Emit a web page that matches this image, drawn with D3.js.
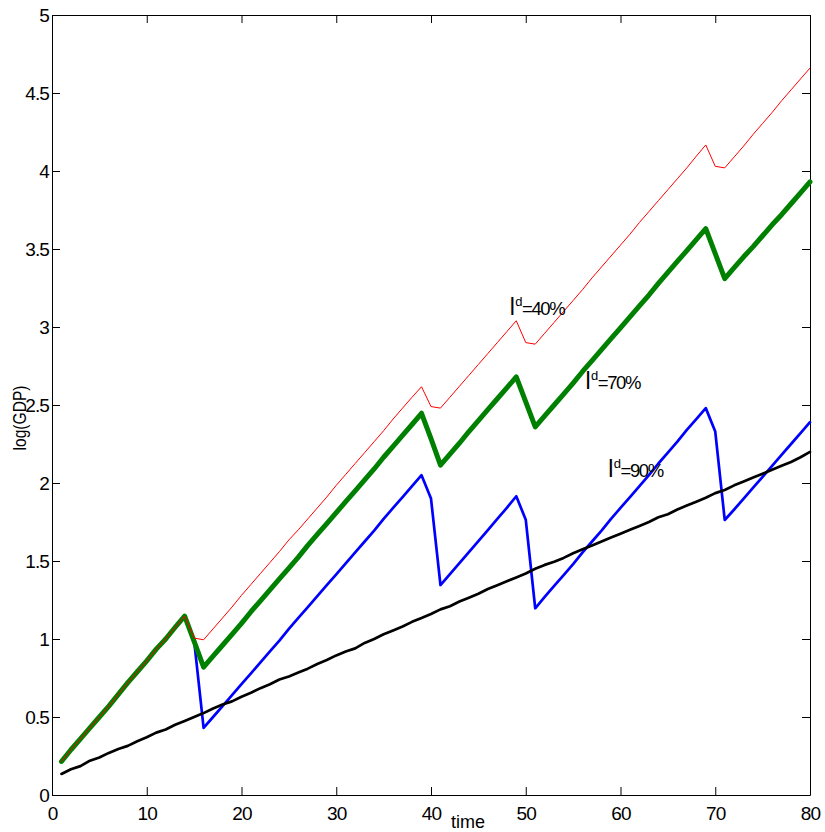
<!DOCTYPE html>
<html>
<head>
<meta charset="utf-8">
<script src="https://cdn.jsdelivr.net/npm/d3@7"></script>
<style>
  html, body { margin: 0; padding: 0; background: #fff; }
  svg { display: block; }
  text { font-family: "Liberation Sans", Arial, sans-serif; fill: #000; }
</style>
</head>
<body>
<svg id="chart" width="825" height="832"></svg>
<script>
// ---- data ----
const time = d3.range(1, 81); // 1..80 time steps

const red40 = [
  0.215, 0.29, 0.36, 0.43, 0.50, 0.57, 0.645, 0.72, 0.79, 0.86,
  0.935, 1.00, 1.075, 1.147, 1.006, 0.995, 1.065, 1.135, 1.205, 1.28,
  1.35, 1.42, 1.49, 1.56, 1.635, 1.70, 1.77, 1.84, 1.91, 1.985,
  2.055, 2.125, 2.195, 2.265, 2.335, 2.41, 2.48, 2.55, 2.617, 2.49,
  2.48, 2.55, 2.62, 2.69, 2.76, 2.83, 2.90, 2.97, 3.04, 2.90,
  2.89, 2.96, 3.03, 3.10, 3.17, 3.24, 3.315, 3.385, 3.455, 3.525,
  3.595, 3.67, 3.74, 3.81, 3.88, 3.95, 4.02, 4.095, 4.167, 4.03,
  4.02, 4.09, 4.16, 4.235, 4.305, 4.375, 4.45, 4.52, 4.59, 4.66
];

const green70 = [
  0.215, 0.29, 0.36, 0.43, 0.50, 0.57, 0.645, 0.72, 0.79, 0.86,
  0.935, 1.00, 1.075, 1.147, 0.985, 0.82, 0.89, 0.96, 1.03, 1.10,
  1.175, 1.245, 1.315, 1.385, 1.455, 1.525, 1.60, 1.67, 1.74, 1.81,
  1.88, 1.95, 2.02, 2.09, 2.165, 2.235, 2.305, 2.375, 2.447, 2.285,
  2.115, 2.185, 2.255, 2.33, 2.40, 2.47, 2.54, 2.61, 2.68, 2.52,
  2.36, 2.43, 2.50, 2.57, 2.64, 2.715, 2.785, 2.855, 2.925, 2.995,
  3.065, 3.135, 3.205, 3.28, 3.35, 3.42, 3.49, 3.56, 3.63, 3.47,
  3.31, 3.38, 3.45, 3.515, 3.585, 3.655, 3.72, 3.79, 3.86, 3.93
];

const blue90 = [
  0.215, 0.29, 0.36, 0.43, 0.50, 0.57, 0.645, 0.72, 0.79, 0.86,
  0.935, 1.00, 1.075, 1.147, 0.99, 0.43, 0.50, 0.57, 0.64, 0.71,
  0.78, 0.85, 0.92, 0.99, 1.065, 1.135, 1.205, 1.275, 1.345, 1.415,
  1.485, 1.555, 1.625, 1.695, 1.77, 1.84, 1.91, 1.98, 2.05, 1.90,
  1.346, 1.416, 1.486, 1.557, 1.628, 1.698, 1.77, 1.84, 1.915, 1.765,
  1.197, 1.27, 1.34, 1.41, 1.48, 1.555, 1.625, 1.695, 1.77, 1.84,
  1.91, 1.98, 2.05, 2.125, 2.195, 2.265, 2.34, 2.41, 2.48, 2.33,
  1.763, 1.83, 1.90, 1.97, 2.04, 2.11, 2.18, 2.25, 2.32, 2.39
];

const blackBase = [
  0.135, 0.165, 0.185, 0.22, 0.24, 0.27, 0.295, 0.315, 0.345, 0.37,
  0.40, 0.42, 0.45, 0.475, 0.50, 0.525, 0.555, 0.58, 0.60, 0.63,
  0.655, 0.685, 0.71, 0.74, 0.76, 0.785, 0.81, 0.84, 0.865, 0.895,
  0.92, 0.94, 0.975, 1.00, 1.03, 1.055, 1.08, 1.11, 1.135, 1.16,
  1.19, 1.21, 1.24, 1.265, 1.29, 1.32, 1.345, 1.37, 1.395, 1.42,
  1.45, 1.475, 1.495, 1.52, 1.55, 1.575, 1.60, 1.625, 1.65, 1.675,
  1.70, 1.725, 1.75, 1.78, 1.80, 1.83, 1.855, 1.88, 1.905, 1.935,
  1.955, 1.985, 2.01, 2.035, 2.06, 2.085, 2.11, 2.135, 2.165, 2.20
];

const xTicks = [0, 10, 20, 30, 40, 50, 60, 70, 80];
const xTickLabels = ["0", "10", "20", "30", "40", "50", "60", "70", "80"];
const yTicks = [0, 0.5, 1, 1.5, 2, 2.5, 3, 3.5, 4, 4.5, 5];
const yTickLabels = ["0", "0.5", "1", "1.5", "2", "2.5", "3", "3.5", "4", "4.5", "5"];

const seriesLabels = [
  { pct: "=40%", t: 48.3, v: 3.08 },
  { pct: "=70%", t: 56.3, v: 2.6 },
  { pct: "=90%", t: 58.7, v: 2.04 }
];

// ---- layout ----
const svg = d3.select("#chart");
const x = d3.scaleLinear().domain([0, 80]).range([52, 810]);
const y = d3.scaleLinear().domain([0, 5]).range([795, 15]);

svg.append("rect").attr("width", 825).attr("height", 832).attr("fill", "#fff");

const fontFam = '"Liberation Sans", Arial, sans-serif';
const styleAxis = g => {
  g.select(".domain").attr("stroke", "#000").attr("stroke-width", 1);
  g.selectAll(".tick line").attr("stroke", "#000").attr("stroke-width", 1);
  g.selectAll(".tick text").attr("font-size", 19).attr("font-family", fontFam)
    .attr("letter-spacing", "-0.9px").attr("fill", "#000");
};

svg.append("g").attr("transform", "translate(0,795)")
  .call(d3.axisBottom(x).tickValues(xTicks).tickFormat((d, i) => xTickLabels[i])
    .tickSizeInner(-8).tickSizeOuter(0).tickPadding(12))
  .call(styleAxis);
svg.append("g").attr("transform", "translate(0,15)")
  .call(d3.axisTop(x).tickValues(xTicks).tickFormat("")
    .tickSizeInner(-8).tickSizeOuter(0))
  .call(styleAxis);
svg.append("g").attr("transform", "translate(52,0)")
  .call(d3.axisLeft(y).tickValues(yTicks).tickFormat((d, i) => yTickLabels[i])
    .tickSizeInner(-8).tickSizeOuter(0).tickPadding(3))
  .call(styleAxis);
svg.append("g").attr("transform", "translate(810,0)")
  .call(d3.axisRight(y).tickValues(yTicks).tickFormat("")
    .tickSizeInner(-8).tickSizeOuter(0))
  .call(styleAxis);

// lines
const line = d3.line().x((d, i) => x(time[i])).y(d => y(d));
const draw = (data, color, w) =>
  svg.append("path").datum(data).attr("d", line)
    .attr("fill", "none").attr("stroke", color).attr("stroke-width", w)
    .attr("stroke-linejoin", "round").attr("stroke-linecap", "round");

draw(blue90, "#0000ff", 2.7);
draw(green70, "#008000", 5);
draw(red40, "#ff0000", 1);
draw(blackBase, "#000000", 2.7);

// series annotations
seriesLabels.forEach(s => {
  const t = svg.append("text").attr("x", x(s.t)).attr("y", y(s.v))
    .attr("font-family", fontFam);
  t.append("tspan").attr("font-size", 23).text("l");
  t.append("tspan").attr("font-size", 13).attr("dy", -9).attr("dx", 0.5).text("d");
  t.append("tspan").attr("font-size", 18.5).attr("dy", 9).attr("dx", -0.5)
    .attr("letter-spacing", "-1.4px").text(s.pct);
});

// axis titles
svg.append("text").attr("x", 468).attr("y", 828).attr("text-anchor", "middle")
  .attr("font-size", 19).attr("textLength", 34).attr("lengthAdjust", "spacingAndGlyphs")
  .text("time");
svg.append("text").attr("transform", "translate(26,418) rotate(-90)")
  .attr("text-anchor", "middle").attr("font-size", 19)
  .attr("textLength", 65).attr("lengthAdjust", "spacingAndGlyphs")
  .text("log(GDP)");
</script>
</body>
</html>
